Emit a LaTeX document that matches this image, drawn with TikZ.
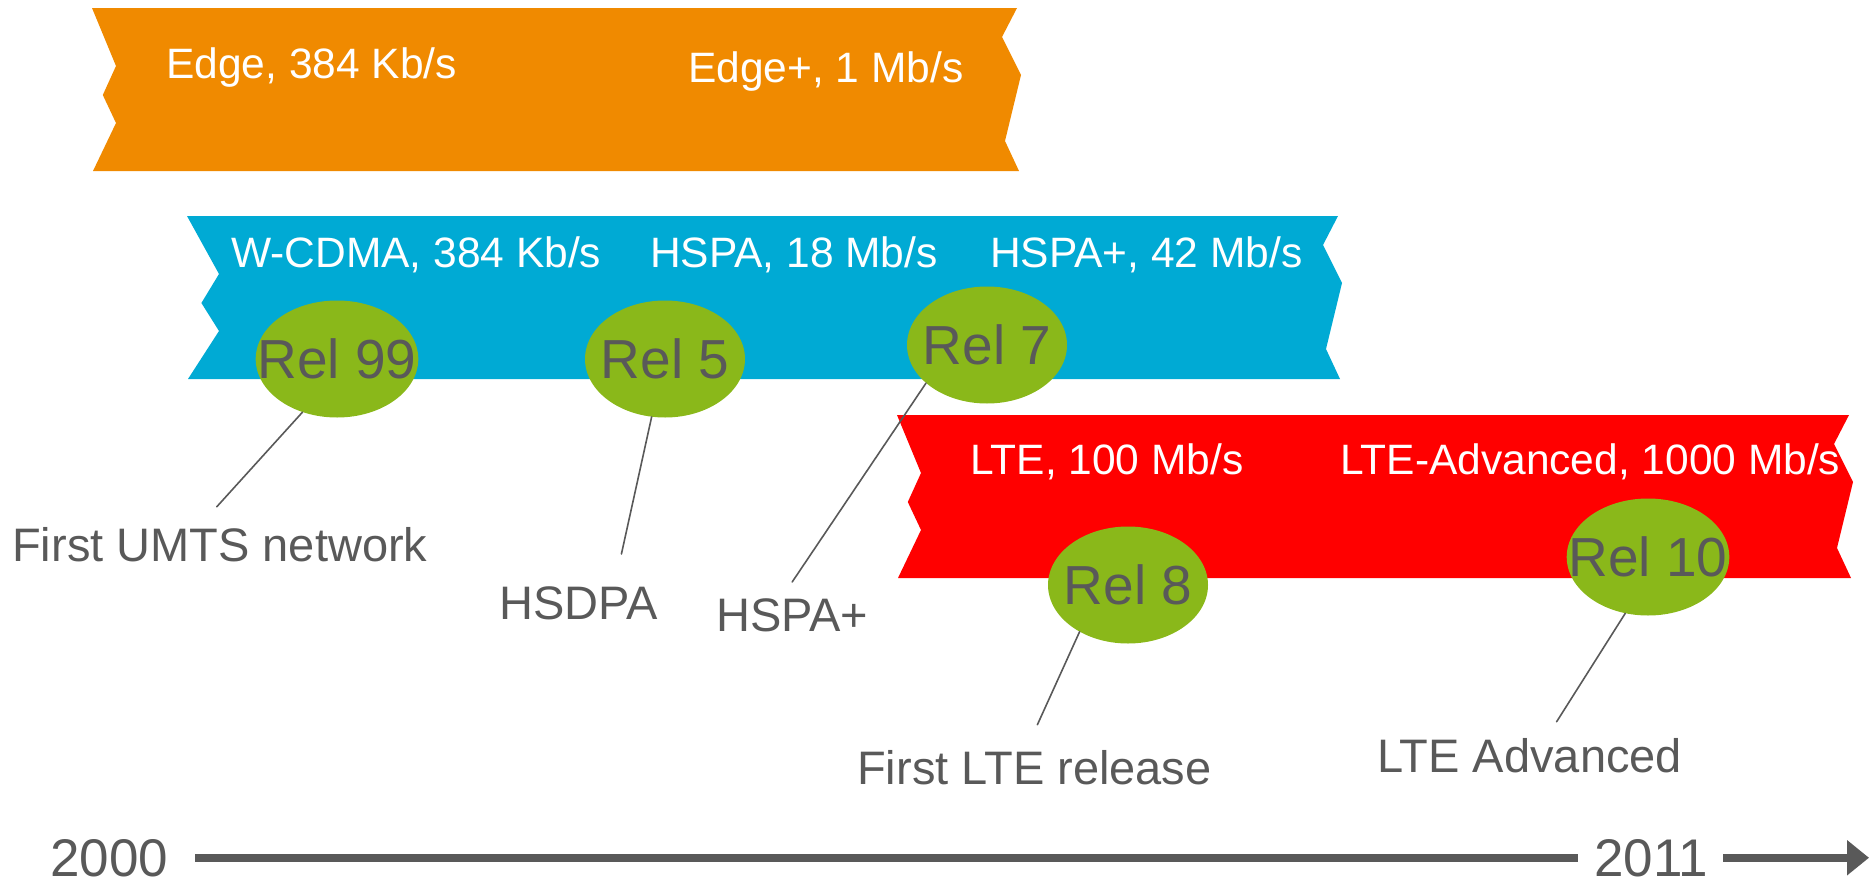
\documentclass[tikz,border=0pt]{standalone}
\usepackage{fontspec}
\setmainfont{Liberation Sans}
\usetikzlibrary{shapes.geometric,arrows.meta}
\definecolor{edgeorange}{HTML}{F08A00}
\definecolor{umtsblue}{HTML}{00AAD4}
\definecolor{ltered}{HTML}{FF0000}
\definecolor{relgreen}{HTML}{8AB81A}
\definecolor{txtgray}{HTML}{595959}
% colour, left x, right x, top y, notch depth
\newcommand{\band}[5]{%
  \fill[#1] (#2,#4) -- (#2+#5,#4+58) -- (#2+0.45*#5,#4+87) -- (#2+#5,#4+115)
    -- (#2+1,#4+163) -- (#3+2,#4+163) -- (#3-12,#4+133) -- (#3+4,#4+67)
    -- (#3-15,#4+29) -- (#3,#4) -- cycle;}
\begin{document}
\begin{tikzpicture}[x=1pt, y=-1pt, line join=round, line cap=round,
    bandtxt/.style={text=white, inner sep=0pt, anchor=base west, font=\fontsize{42.5}{50}\selectfont},
    rel/.style={ellipse, fill=relgreen, text=txtgray, inner ysep=0pt, inner xsep=-22pt, minimum width=160pt, minimum height=117pt, font=\fontsize{55}{60}\selectfont},
    note/.style={text=txtgray, inner sep=0pt, anchor=base west, font=\fontsize{47}{56}\selectfont},
    year/.style={text=txtgray, inner sep=0pt, anchor=base west, font=\fontsize{53}{60}\selectfont},
    conn/.style={draw=txtgray, line width=1.6pt},
    timeline/.style={draw=txtgray, line width=8pt, line cap=butt}]
    \useasboundingbox (0,0) rectangle (1872,886);
    \band{edgeorange}{92}{1017}{8}{24}
    \band{umtsblue}{187}{1338}{216}{32}
    \band{ltered}{897}{1849}{415}{24}
    \node[bandtxt] (edge) at (166,78) {Edge, 384 Kb/s};
    \node[bandtxt] (edgeplus) at (688,82) {Edge+, 1 Mb/s};
    \node[bandtxt] (wcdma) at (231,267) {W-CDMA, 384 Kb/s};
    \node[bandtxt] (hspa) at (650,267) {HSPA, 18 Mb/s};
    \node[bandtxt] (hspaplus) at (990,267) {HSPA+, 42 Mb/s};
    \node[bandtxt] (lte) at (970,474) {LTE, 100 Mb/s};
    \node[bandtxt] (lteadv) at (1340,474) {LTE-Advanced, 1000 Mb/s};
    % releases
    \node[rel] (rel99) at (337,359) {Rel 99};
    \node[rel] (rel5) at (665,359) {Rel 5};
    \node[rel] (rel7) at (987,345) {Rel 7};
    \node[rel] (rel8) at (1128,585) {Rel 8};
    \node[rel] (rel10) at (1648,557) {Rel 10};
    \node[note] (umts) at (12,561) {First UMTS network};
    \node[note] (hsdpa) at (499,619) {HSDPA};
    \node[note] (hspanote) at (716,631) {HSPA+};
    \node[note] (firstlte) at (857,784) {First LTE release};
    \node[note] (lteadvnote) at (1377,772) {LTE Advanced};
    \draw[conn] (rel99.237) -- ([xshift=-3pt,yshift=20pt]umts.north);
    \draw[conn] (rel5.257) -- ([xshift=43pt,yshift=32pt]hsdpa.north);
    \draw[conn] (rel7.212) -- ([yshift=16pt]hspanote.north);
    \draw[conn] (rel8.224) -- ([xshift=3pt,yshift=25pt]firstlte.north);
    \draw[conn] (rel10.248) -- ([xshift=27pt,yshift=16pt]lteadvnote.north);
    % time axis
    \node[year] (y2000) at (50,876) {2000};
    \node[year] (y2011) at (1594,876) {2011};
    \coordinate (tend) at (y2011.east -| 1869,0);
    \draw[timeline] ([xshift=27pt]y2000.east) -- ([xshift=-16pt]y2011.west);
    \draw[timeline, -{Triangle[length=22pt,width=34pt]}] ([xshift=15pt]y2011.east) -- (tend);
\end{tikzpicture}
\end{document}
